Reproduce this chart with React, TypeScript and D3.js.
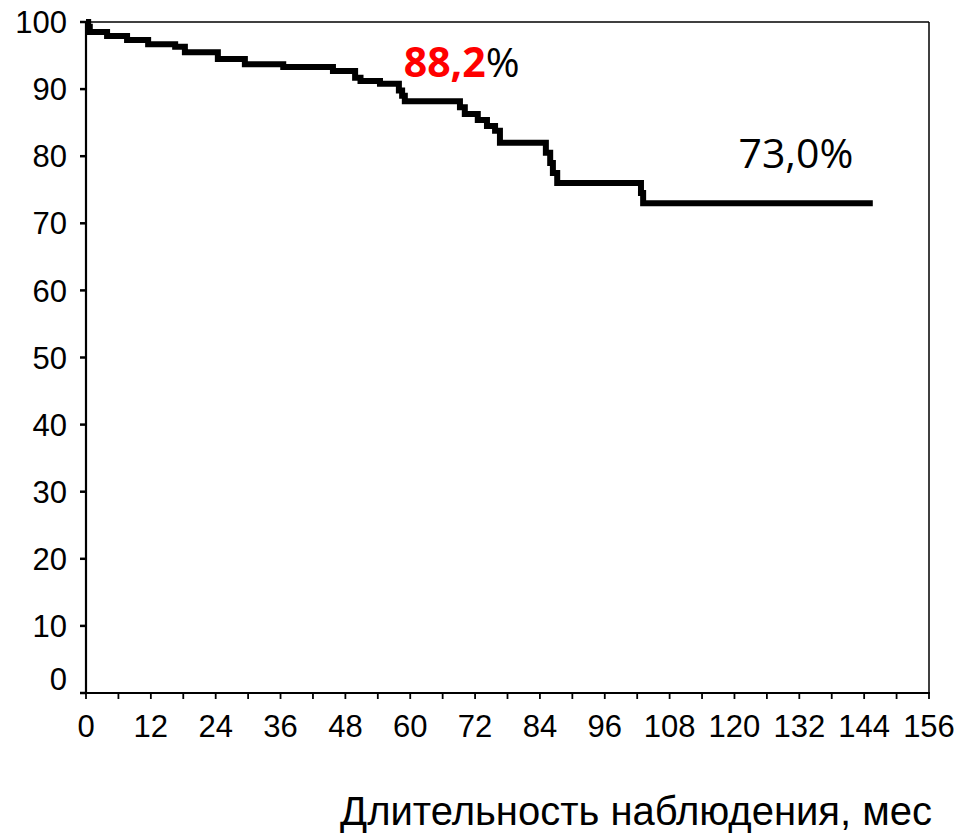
import React from "react";
import * as d3 from "d3";

// Kaplan–Meier survival estimate (months, %)
const months = [0, 0.4, 0.7, 3.9, 7.6, 11.5, 16.5, 18.3, 24.4, 29.4, 36.5, 45.7, 49.8, 50.8, 54.4, 57.9, 58.5, 59.0, 69.2, 70.1, 72.5, 74.2, 75.7, 76.6, 85.1, 85.9, 86.4, 87.2, 102.7, 103.1, 145.6];
const survival = [100, 99.3, 98.5, 97.9, 97.3, 96.7, 96.3, 95.5, 94.5, 93.7, 93.3, 92.7, 91.7, 91.2, 90.8, 89.8, 89.0, 88.2, 87.3, 86.3, 85.4, 84.5, 83.8, 82.0, 80.5, 79.0, 77.5, 76.0, 74.5, 73.0, 73.0];

const xTickLabels = [0, 12, 24, 36, 48, 60, 72, 84, 96, 108, 120, 132, 144, 156];
const xMinorTicks = d3.range(0, 157, 6);
const yTickLabels = [0, 10, 20, 30, 40, 50, 60, 70, 80, 90, 100];

// Annotated survival at 5 years and at end of follow-up
const annot5y = { month: 58.8, value: "88,2" };
const annotEnd = { month: 142, value: "73,0" };

const W = 966;
const H = 836;
const left = 86;
const right = 929;
const top = 22;
const bottom = 693;

export default function App() {
  const x = d3.scaleLinear().domain([0, 156]).range([left, right]);
  const y = d3.scaleLinear().domain([0, 100]).range([bottom, top]);

  const pts: [number, number][] = months.map((m, i) => [m, survival[i]]);
  const line = d3
    .line<[number, number]>()
    .x((d) => x(d[0]))
    .y((d) => y(d[1]))
    .curve(d3.curveStepAfter);

  const axisFont = "'Liberation Sans', Arial, sans-serif";
  const annFont = "'Open Sans', 'Noto Sans', sans-serif";

  return (
    <svg
      width={W}
      height={H}
      viewBox={`0 0 ${W} ${H}`}
      style={{ position: "absolute", left: 0, top: 0, background: "#fff" }}
    >
      <rect x={0} y={0} width={W} height={H} fill="#fff" />

      {/* frame */}
      <line x1={left} x2={right} y1={top} y2={top} stroke="#000" strokeWidth={1.5} />
      <line x1={right} x2={right} y1={top} y2={bottom} stroke="#000" strokeWidth={1.5} />
      <line x1={left} x2={left} y1={top} y2={bottom + 1} stroke="#000" strokeWidth={2.2} />
      <line x1={left - 1} x2={right + 1} y1={bottom} y2={bottom} stroke="#000" strokeWidth={2.2} />

      {/* y ticks and labels */}
      {yTickLabels.map((v) => (
        <g key={`y${v}`}>
          <line x1={left - 6} x2={left} y1={y(v)} y2={y(v)} stroke="#000" strokeWidth={2.5} />
          <text
            x={67}
            y={v === 0 ? y(v) - 14 : y(v)}
            dy="0.36em"
            textAnchor="end"
            fontFamily={axisFont}
            fontSize={31}
            fill="#000"
          >
            {v}
          </text>
        </g>
      ))}

      {/* x ticks and labels */}
      {xMinorTicks.map((v) => (
        <line key={`xt${v}`} x1={x(v)} x2={x(v)} y1={bottom} y2={bottom + 6} stroke="#000" strokeWidth={1.8} />
      ))}
      {xTickLabels.map((v) => (
        <text
          key={`xl${v}`}
          x={x(v)}
          y={737}
          textAnchor="middle"
          fontFamily={axisFont}
          fontSize={31}
          fill="#000"
        >
          {v}
        </text>
      ))}

      {/* axis title */}
      <text x={932} y={825} textAnchor="end" fontFamily={axisFont} fontSize={40} fill="#000">
        Длительность наблюдения, мес
      </text>

      {/* survival curve */}
      <path d={line(pts) ?? ""} fill="none" stroke="#000" strokeWidth={6} strokeLinejoin="miter" />

      {/* annotations */}
      <text x={x(annot5y.month)} y={77} fontFamily={annFont} fontSize={41} fill="#000">
        <tspan fill="#ff0000" fontWeight={700}>{annot5y.value}</tspan>
        <tspan>%</tspan>
      </text>
      <text x={x(annotEnd.month)} y={168} textAnchor="end" fontFamily={annFont} fontSize={41} fill="#000">
        {annotEnd.value}%
      </text>
    </svg>
  );
}
